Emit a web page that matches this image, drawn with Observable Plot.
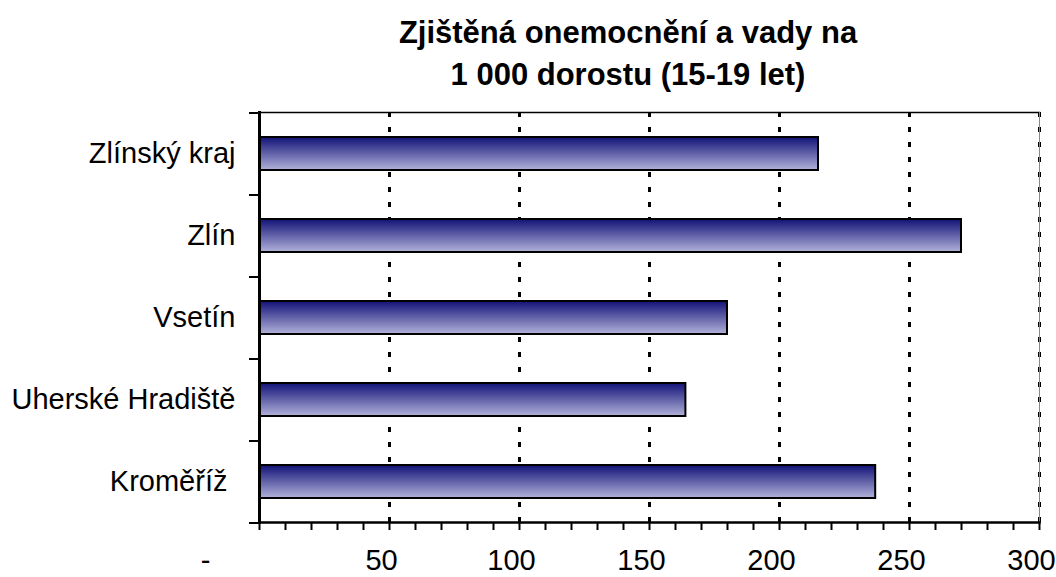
<!DOCTYPE html>
<html>
<head>
<meta charset="utf-8">
<script src="https://cdn.jsdelivr.net/npm/d3@7"></script>
<script src="https://cdn.jsdelivr.net/npm/@observablehq/plot@0.6"></script>
<style>
  html, body { margin: 0; padding: 0; background: #fff; }
  #title {
    box-sizing: border-box; width: 1056px; height: 100px;
    padding: 12px 0 0 200px; text-align: center;
    font-family: "Liberation Sans", Arial, sans-serif; font-weight: bold;
    font-size: 31px; line-height: 42px; color: #000;
  }
</style>
</head>
<body>
<div id="title">Zjištěná onemocnění a vady na<br>1 000 dorostu (15-19 let)</div>
<div id="chart"></div>
<script>
const categories = ["Zlínský kraj", "Zlín", "Vsetín", "Uherské Hradiště", "Kroměříž\u00a0"];
const values = [215, 270, 180, 164, 237];
const majorTicks = [50, 100, 150, 200, 250, 300];
const majorTickLabels = ["50", "100", "150", "200", "250", "300"];
const zeroTickLabel = "-";
const minorTicks = d3.range(0, 301, 10);

const data = categories.map((c, i) => ({name: c, value: values[i]}));
const font = "Liberation Sans, Arial, sans-serif";

const plot = Plot.plot({
  width: 1056,
  height: 477,
  marginLeft: 259,
  marginRight: 17,
  marginTop: 12,
  marginBottom: 55,
  style: {fontFamily: font, fontSize: "29px", color: "#000", background: "#fff"},
  x: {domain: [0, 300], label: null},
  y: {domain: categories, paddingInner: 0.6, paddingOuter: 0.3, label: null},
  marks: [
    Plot.ruleX(majorTicks, {stroke: "#000", strokeWidth: 3, strokeDasharray: "5,10"}),
    Plot.barX(data, {y: "name", x: "value", fill: "url(#barGrad)", stroke: "#000", strokeWidth: 2}),
    Plot.frame({anchor: "top", stroke: "#000", strokeWidth: 1.5}),
    Plot.frame({anchor: "right", stroke: "#888", strokeWidth: 1}),
    Plot.axisX({ticks: minorTicks, tickSize: 8, strokeWidth: 2, tickFormat: () => "", label: null}),
    Plot.axisX({ticks: majorTicks, tickSize: 0, tickPadding: 27, dx: -8, tickFormat: d => majorTickLabels[majorTicks.indexOf(d)], fontSize: 29, label: null}),
    Plot.axisX({ticks: [0], tickSize: 0, tickPadding: 27, dx: -54, tickFormat: () => zeroTickLabel, fontSize: 29, label: null}),
    Plot.axisY({tickSize: 10, strokeWidth: 2, dy: -41, tickFormat: () => "", label: null}),
    Plot.axisY({ticks: [categories[categories.length - 1]], tickSize: 10, strokeWidth: 2, dy: 41, tickFormat: () => "", label: null}),
    Plot.axisY({tickSize: 0, tickPadding: 24, fontSize: 29, label: null}),
    Plot.frame({anchor: "bottom", stroke: "#000", strokeWidth: 2.5}),
    Plot.frame({anchor: "left", stroke: "#000", strokeWidth: 3})
  ]
});

const svg = d3.select(plot);
const defs = svg.insert("defs", ":first-child");
const grad = defs.append("linearGradient")
  .attr("id", "barGrad").attr("x1", 0).attr("y1", 0).attr("x2", 0).attr("y2", 1);
grad.append("stop").attr("offset", "0%").attr("stop-color", "#121278");
grad.append("stop").attr("offset", "100%").attr("stop-color", "#b2b2da");

document.getElementById("chart").appendChild(plot);
</script>
</body>
</html>
